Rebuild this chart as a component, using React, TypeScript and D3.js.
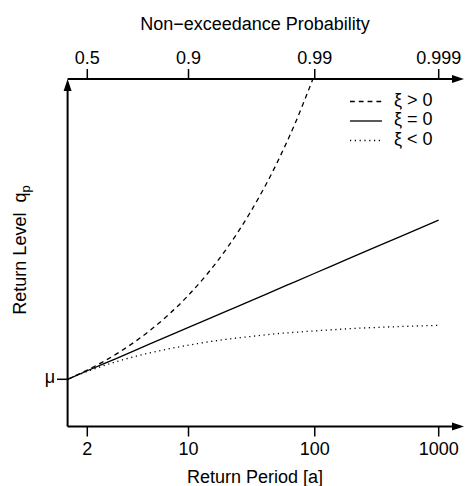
import React from "react";
import * as d3 from "d3";

// Return periods (years) at which curves were read
const returnPeriods = [1.582, 2, 3, 5, 10, 20, 30, 50, 70, 100, 200, 500, 1000];
// Return levels in units of sigma above mu
const levelXiZero = [0, 0.37, 0.9, 1.5, 2.25, 2.97, 3.38, 3.9, 4.24, 4.6, 5.3, 6.21, 6.91];
const levelXiPos = [0, 0.4, 1.09, 2.06, 3.65, 5.7, 7.18, 9.41, 11.14, 13.24, null, null, null];
const levelXiNeg = [0, 0.34, 0.76, 1.13, 1.48, 1.74, 1.85, 1.98, 2.04, 2.1, 2.2, 2.29, 2.34];

const bottomTicks = [2, 10, 100, 1000];
const bottomTickLabels = ["2", "10", "100", "1000"];
const topTicks = [0.5, 0.9, 0.99, 0.999];
const topTickLabels = ["0.5", "0.9", "0.99", "0.999"];

const legendLabels = ["ξ > 0", "ξ = 0", "ξ < 0"];
const legendDash = ["4.8,4", "none", "1.2,3.6"];

const W = 465;
const H = 486;
const FONT = "'Liberation Sans', Arial, Helvetica, sans-serif";

const reducedFromT = (T: number) => -Math.log(-Math.log(1 - 1 / T));
const reducedFromP = (p: number) => -Math.log(-Math.log(p));

export default function App() {
  const x = d3.scaleLinear().domain([0, reducedFromT(1000)]).range([67.6, 438.7]);
  const y = d3.scaleLinear().domain([0, 6.91]).range([379.3, 220]);

  const left = 67.6;
  const top = 79;
  const bottom = 426.5;
  const right = 464;

  const mk = (vals: (number | null)[]) => {
    const pts = returnPeriods.map((T, i) => ({ T, v: vals[i] }));
    return d3
      .line<{ T: number; v: number | null }>()
      .defined((d) => d.v !== null)
      .x((d) => x(reducedFromT(d.T)))
      .y((d) => y(d.v as number))
      .curve(d3.curveMonotoneX)(pts) as string;
  };

  const series = [
    { vals: levelXiPos, dash: legendDash[0] },
    { vals: levelXiZero, dash: legendDash[1] },
    { vals: levelXiNeg, dash: legendDash[2] },
  ];

  const arrowLen = 12;
  const arrowHalf = 4;

  return (
    <svg
      width={W}
      height={H}
      style={{ position: "absolute", left: 0, top: 0, background: "#fff" }}
      fontFamily={FONT}
    >
      <defs>
        <clipPath id="plot">
          <rect x={left} y={top} width={right - left} height={bottom - top} />
        </clipPath>
      </defs>

      {/* curves */}
      <g clipPath="url(#plot)">
        {series.map((s, i) => (
          <path
            key={i}
            d={mk(s.vals)}
            fill="none"
            stroke="#000"
            strokeWidth={1.3}
            strokeDasharray={s.dash}
          />
        ))}
      </g>

      {/* axes */}
      <g stroke="#000" strokeWidth={2} fill="none">
        <line x1={left} y1={bottom} x2={right - 6} y2={bottom} />
        <line x1={left} y1={top} x2={right - 6} y2={top} />
        <line x1={left} y1={bottom} x2={left} y2={top + 6} />
      </g>
      <g fill="#000">
        <path d={`M${right},${bottom} L${right - arrowLen},${bottom - arrowHalf} L${right - arrowLen},${bottom + arrowHalf} Z`} />
        <path d={`M${right},${top} L${right - arrowLen},${top - arrowHalf} L${right - arrowLen},${top + arrowHalf} Z`} />
        <path d={`M${left},${top} L${left - arrowHalf},${top + arrowLen} L${left + arrowHalf},${top + arrowLen} Z`} />
      </g>

      {/* bottom ticks */}
      {bottomTicks.map((T, i) => {
        const px = x(reducedFromT(T));
        return (
          <g key={"b" + i}>
            <line x1={px} x2={px} y1={bottom} y2={bottom + 10} stroke="#000" strokeWidth={1.5} />
            <text x={px} y={454.5} fontSize={18} textAnchor="middle">
              {bottomTickLabels[i]}
            </text>
          </g>
        );
      })}

      {/* top ticks */}
      {topTicks.map((p, i) => {
        const px = x(reducedFromP(p));
        return (
          <g key={"t" + i}>
            <line x1={px} x2={px} y1={top} y2={top - 10} stroke="#000" strokeWidth={1.5} />
            <text x={px} y={63.5} fontSize={18} textAnchor="middle">
              {topTickLabels[i]}
            </text>
          </g>
        );
      })}

      {/* mu tick */}
      <line x1={57} x2={left} y1={y(0)} y2={y(0)} stroke="#000" strokeWidth={1.5} />
      <text x={55} y={383} fontSize={18} textAnchor="end">
        μ
      </text>

      {/* titles */}
      <text x={255} y={29.5} fontSize={18} textAnchor="middle">
        Non−exceedance Probability
      </text>
      <text x={255} y={483} fontSize={18} textAnchor="middle">
        Return Period [a]
      </text>
      <text transform="translate(26,250) rotate(-90)" fontSize={18} textAnchor="middle">
        {"Return Level\u00a0\u00a0q"}
        <tspan fontSize={13} dy={4}>p</tspan>
      </text>

      {/* legend */}
      {legendLabels.map((lab, i) => {
        const ly = 101.5 + i * 19.5;
        return (
          <g key={"l" + i}>
            <line
              x1={350}
              x2={382}
              y1={ly}
              y2={ly}
              stroke="#000"
              strokeWidth={1.3}
              strokeDasharray={legendDash[i]}
            />
            <text x={394} y={ly + 4} fontSize={18}>
              {lab}
            </text>
          </g>
        );
      })}
    </svg>
  );
}
